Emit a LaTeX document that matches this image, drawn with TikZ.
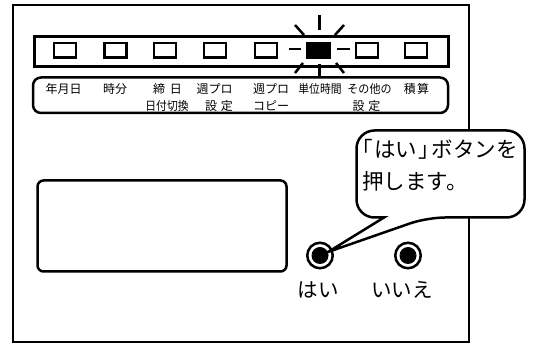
\documentclass[tikz,border=0pt]{standalone}
\usepackage{fontspec}
\usepackage{graphicx}
\newfontfamily\jp{Noto Sans CJK JP}
\newfontfamily\jpp[RawFeature=+palt]{Noto Sans CJK JP}
\begin{document}
\begin{tikzpicture}[x=1pt,y=-1pt,
  frameline/.style={line width=2pt},
  ledoff/.style={draw, line width=2.5pt, minimum width=22pt, minimum height=14.5pt, inner sep=0pt},
  ledon/.style={ledoff, fill=black},
  lbl/.style={font=\jp\fontsize{12}{12}\selectfont, inner sep=0pt},
  ray/.style={line width=2.5pt},
  btn/.style={circle, draw, line width=2.5pt, minimum size=25.5pt, inner sep=0pt, fill=white},
  btndot/.style={circle, fill=black, minimum size=17pt, inner sep=0pt},
  big/.style={font=\jp\fontsize{20.5}{20.5}\selectfont, inner sep=0pt},
  bubtext/.style={font=\jp\fontsize{21.5}{21.5}\selectfont, inner sep=0pt, anchor=west}]
\useasboundingbox (0,0) rectangle (536,344);
% outer frame
\draw[frameline] (13,5) rectangle (469,342);
% LED bar
\node[draw, line width=3pt, minimum width=414pt, minimum height=30pt, inner sep=0pt, anchor=north west] (bar) at (32.5,35.5) {};
% LEDs
\node[ledoff] (l1) at (65,50.5) {};
\node[ledoff] (l2) at (115.5,50.5) {};
\node[ledoff] (l3) at (165,50.5) {};
\node[ledoff] (l4) at (215,50.5) {};
\node[ledoff] (l5) at (266,50.5) {};
\node[ledon]  (l6) at (318.5,50.5) {};
\node[ledoff] (l7) at (367,50.5) {};
\node[ledoff] (l8) at (416,50.5) {};
% rays
\draw[ray] (319.5,15) -- (319.5,30);
\draw[ray] (295,25) -- (304,35);
\draw[ray] (344,25) -- (335,35);
\draw[ray] (289,49) -- (301,49);
\draw[ray] (337,49) -- (350,49);
\draw[ray] (303,63) -- (295,73);
\draw[ray] (336,63) -- (344,73);
\draw[ray] (319.5,64) -- (319.5,77);
% label box
\draw[line width=2.5pt, rounded corners=8pt] (33,77.5) rectangle (448,113);
\node[lbl] (t1) at (63.5,89) {年月日};
\node[lbl] (t2) at (115,89) {時分};
\node[lbl] (t3a) at (167.5,89) {締\hspace{0.4em}日};
\node[lbl] (t3b) at (167,105.5) {\scalebox{0.9}[1]{日付切換}};
\node[lbl] (t4a) at (214.5,89) {週プロ};
\node[lbl] (t4b) at (219,105.5) {設\hspace{0.3em}定};
\node[lbl] (t5a) at (271,89) {週プロ};
\node[lbl] (t5b) at (271,105.5) {コピー};
\node[lbl] (t6) at (320,89) {\scalebox{0.9}[1]{単位時間}};
\node[lbl] (t7a) at (369.5,89) {\scalebox{0.92}[1]{その他の}};
\node[lbl] (t7b) at (366.5,105.5) {設\hspace{0.3em}定};
\node[lbl] (t8) at (416.5,89) {積\hspace{0.1em}算};
% display
\draw[line width=2.5pt, rounded corners=6pt] (37.5,180.5) rectangle (286.5,271.5);
% buttons
\node[btn] (yes) at (320,255.5) {};
\node[btndot] at (yes) {};
\node[btn] (no) at (408,255.5) {};
\node[btndot] at (no) {};
\node[big] (yeslbl) at (318,290) {はい};
\node[big] (nolbl) at (402,290) {いいえ};
% bubble
\coordinate (apex) at (328,252);
\draw[line width=2.5pt, fill=white, rounded corners=18pt]
  (384,217.5) -- (356.5,217.5) -- (356.5,130.5) -- (524.5,130.5) -- (524.5,217.5) -- (427,217.5)
  [sharp corners] -- (apex) -- cycle;
\node[bubtext] (bt1) at (362,149) {{\jpp 「}\kern1.5pt はい\kern1.5pt{\jpp 」}\kern2pt ボタンを};
\node[bubtext] (bt2) at (362,181) {押します。};
\end{tikzpicture}
\end{document}
